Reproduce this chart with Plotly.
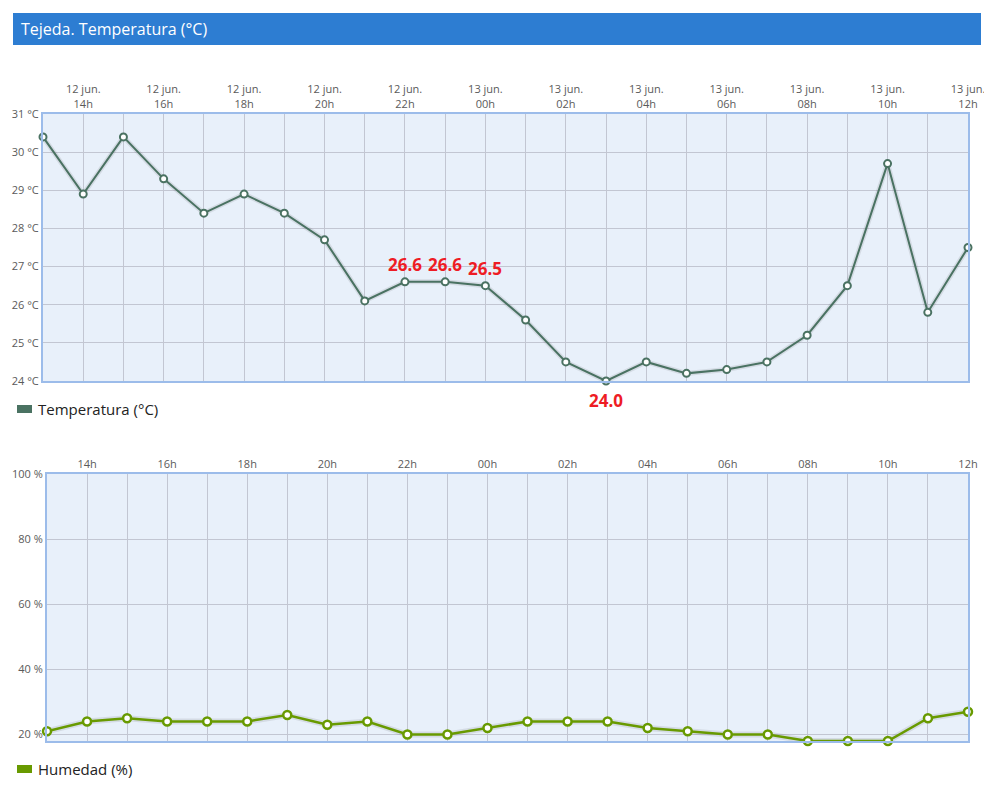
import plotly.graph_objects as go

# la pagina tiene 8px de margen en el body
W, H = 984, 775
OFF = 8

# ----- datos ------------------------------------------------------------------
horas = [
    '2024-06-12 13:00', '2024-06-12 14:00', '2024-06-12 15:00', '2024-06-12 16:00',
    '2024-06-12 17:00', '2024-06-12 18:00', '2024-06-12 19:00', '2024-06-12 20:00',
    '2024-06-12 21:00', '2024-06-12 22:00', '2024-06-12 23:00', '2024-06-13 00:00',
    '2024-06-13 01:00', '2024-06-13 02:00', '2024-06-13 03:00', '2024-06-13 04:00',
    '2024-06-13 05:00', '2024-06-13 06:00', '2024-06-13 07:00', '2024-06-13 08:00',
    '2024-06-13 09:00', '2024-06-13 10:00', '2024-06-13 11:00', '2024-06-13 12:00',
]
temperatura = [30.4, 28.9, 30.4, 29.3, 28.4, 28.9, 28.4, 27.7, 26.1, 26.6, 26.6, 26.5,
               25.6, 24.5, 24.0, 24.5, 24.2, 24.3, 24.5, 25.2, 26.5, 29.7, 25.8, 27.5]
humedad = [21, 24, 25, 24, 24, 24, 26, 23, 24, 20, 20, 22,
           24, 24, 24, 22, 21, 20, 20, 18, 18, 18, 25, 27]

tick_vals = horas[1::2]
tick_dias = ['12 jun.'] * 5 + ['13 jun.'] * 7
tick_horas = ['14h', '16h', '18h', '20h', '22h', '00h',
              '02h', '04h', '06h', '08h', '10h', '12h']
etiquetas_arriba = [9, 10, 11]   # indices con valor rotulado encima
etiquetas_abajo = [14]           # minimo

# ----- estilos ------------------------------------------------------------------
C_TEMP = '#4a7262'
C_HUM = '#689a00'
C_BORDE = '#9cbcea'
C_FONDO = '#e8f0fa'
C_GRID = '#c2c6d2'
C_TICK = '#5a5a5a'
FUENTE = 'Open Sans, sans-serif'


def fx(px):
    return (px - OFF) / W


def fy(py):
    return 1 - (py - OFF) / H


fig = go.Figure()

# sombra suave + linea de temperatura
fig.add_trace(go.Scatter(
    x=horas, y=temperatura, xaxis='x', yaxis='y', mode='lines',
    line=dict(color='rgba(40,40,40,0.10)', width=5), hoverinfo='skip',
    showlegend=False,
))
fig.add_trace(go.Scatter(
    x=horas, y=temperatura, xaxis='x', yaxis='y', mode='lines+markers',
    name='Temperatura (°C)', cliponaxis=False,
    line=dict(color=C_TEMP, width=2),
    marker=dict(size=7, color='white', line=dict(color=C_TEMP, width=2)),
    showlegend=False,
))
fig.add_trace(go.Scatter(
    x=horas, y=humedad, xaxis='x2', yaxis='y2', mode='lines',
    line=dict(color='rgba(40,40,40,0.10)', width=6), hoverinfo='skip',
    showlegend=False,
))
fig.add_trace(go.Scatter(
    x=horas, y=humedad, xaxis='x2', yaxis='y2', mode='lines+markers',
    name='Humedad (%)', cliponaxis=False,
    line=dict(color=C_HUM, width=2.5),
    marker=dict(size=8, color='white', line=dict(color=C_HUM, width=2.5)),
    showlegend=False,
))

eje_x = dict(
    type='date', side='top', range=[horas[0], horas[-1]],
    tickvals=tick_vals, ticks='', tickfont=dict(size=11, color=C_TICK),
    ticklabeloverflow='allow',
    showgrid=True, gridcolor=C_GRID, gridwidth=1,
    minor=dict(dtick=3600000, showgrid=True, gridcolor=C_GRID, gridwidth=1),
    showline=True, mirror=True, linecolor=C_BORDE, linewidth=2,
    zeroline=False, automargin=False, fixedrange=True,
)
eje_y = dict(
    ticks='', tickfont=dict(size=11, color=C_TICK),
    showgrid=True, gridcolor=C_GRID, gridwidth=1,
    showline=True, mirror=True, linecolor=C_BORDE, linewidth=2,
    zeroline=False, automargin=False, fixedrange=True,
)

fig.update_layout(
    width=W, height=H,
    margin=dict(l=0, r=0, t=0, b=0),
    paper_bgcolor='white', plot_bgcolor=C_FONDO,
    font=dict(family=FUENTE, color=C_TICK),
    showlegend=False, hovermode='closest',
    xaxis=dict(eje_x, domain=[fx(43), fx(968)], anchor='y',
               ticktext=[f'{d}<br>{h}' for d, h in zip(tick_dias, tick_horas)]),
    yaxis=dict(eje_y, domain=[fy(381), fy(114)], anchor='x',
               range=[24, 31], dtick=1, ticksuffix=' °C'),
    xaxis2=dict(eje_x, domain=[fx(47), fx(968)], anchor='y2',
                ticktext=tick_horas),
    yaxis2=dict(eje_y, domain=[fy(741), fy(474)], anchor='x2',
                range=[18, 100], tick0=0, dtick=20, ticksuffix=' %'),
)

# cabecera
fig.add_shape(type='rect', xref='paper', yref='paper',
              x0=fx(13), x1=fx(981), y0=fy(45), y1=fy(13),
              fillcolor='#2d7dd2', line=dict(width=0), layer='below')
fig.add_annotation(xref='paper', yref='paper', x=fx(19), y=fy(29),
                   xanchor='left', yanchor='middle', showarrow=False,
                   text='Tejeda. Temperatura (°C)',
                   font=dict(size=16, color='white', family=FUENTE))

# valores destacados
for i in etiquetas_arriba:
    fig.add_annotation(x=horas[i], y=temperatura[i], xref='x', yref='y',
                       text=f'<b>{temperatura[i]:.1f}</b>', showarrow=False,
                       yshift=17, font=dict(size=17, color='#ee1c24'))
for i in etiquetas_abajo:
    fig.add_annotation(x=horas[i], y=temperatura[i], xref='x', yref='y',
                       text=f'<b>{temperatura[i]:.1f}</b>', showarrow=False,
                       yshift=-20, font=dict(size=17, color='#ee1c24'))

# leyendas
for y_px, color, texto in [(409, C_TEMP, 'Temperatura (°C)'),
                           (769, C_HUM, 'Humedad (%)')]:
    fig.add_shape(type='rect', xref='paper', yref='paper',
                  x0=fx(17), x1=fx(32), y0=fy(y_px + 4), y1=fy(y_px - 4),
                  fillcolor=color, line=dict(width=0))
    fig.add_annotation(xref='paper', yref='paper', x=fx(36), y=fy(y_px),
                       xanchor='left', yanchor='middle', showarrow=False,
                       text=texto, font=dict(size=15, color='#222'))

fig.write_html('out.html')
